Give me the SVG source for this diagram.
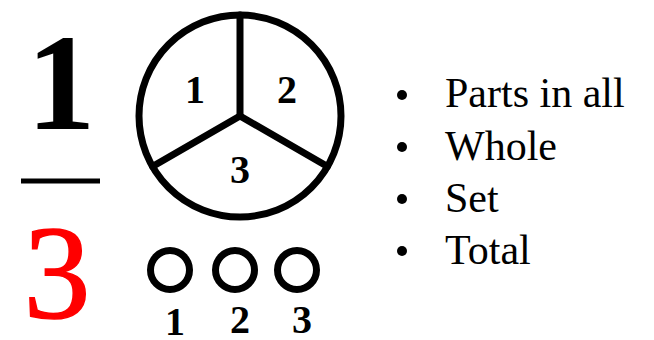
<svg xmlns="http://www.w3.org/2000/svg" width="654" height="340" viewBox="0 0 654 340">
<style>
.t{font-family:"Liberation Serif","Times New Roman",serif;fill:#000}
.b{font-weight:bold;font-size:40px;text-anchor:middle}
.li{font-size:42px}
.ring{fill:none;stroke:#000;stroke-width:7}
.sp{stroke:#000;stroke-width:7;stroke-linecap:round}
</style>
<rect width="654" height="340" fill="#fff"/>
<g id="fraction">
<text class="t" x="61" y="129" font-size="138" font-weight="bold" text-anchor="middle">1</text>
<line x1="21" y1="181" x2="100" y2="181" stroke="#000" stroke-width="5"/>
<text class="t" x="57" y="318" font-size="134" text-anchor="middle" style="fill:#f00;stroke:#f00;stroke-width:1.5">3</text>
</g>
<g id="pie">
<circle class="ring" cx="240" cy="116" r="101"/>
<line class="sp" x1="240" y1="116" x2="240" y2="15"/>
<line class="sp" x1="240" y1="116" x2="152.5" y2="166.5"/>
<line class="sp" x1="240" y1="116" x2="327.5" y2="166.5"/>
<text class="t b" x="195" y="103">1</text>
<text class="t b" x="287" y="103">2</text>
<text class="t b" x="240" y="183">3</text>
</g>
<g id="set">
<circle class="ring" cx="170" cy="270" r="19.5"/>
<circle class="ring" cx="235" cy="270" r="19.5"/>
<circle class="ring" cx="297" cy="270" r="19.5"/>
<text class="t b" x="175" y="335">1</text>
<text class="t b" x="240" y="333">2</text>
<text class="t b" x="302" y="333">3</text>
</g>
<g id="list">
<circle cx="402" cy="95" r="5"/>
<circle cx="402" cy="147" r="5"/>
<circle cx="402" cy="199" r="5"/>
<circle cx="402" cy="251" r="5"/>
<text class="t li" x="445" y="107">Parts in all</text>
<text class="t li" x="445" y="160">Whole</text>
<text class="t li" x="445" y="212">Set</text>
<text class="t li" x="445" y="264">Total</text>
</g>
</svg>
